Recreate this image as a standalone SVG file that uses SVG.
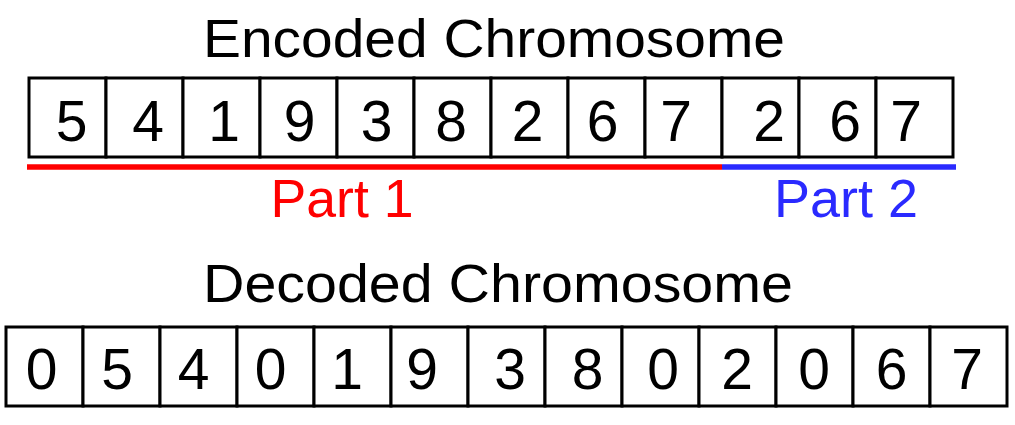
<svg xmlns="http://www.w3.org/2000/svg" width="1015" height="425" viewBox="0 0 1015 425">
<style>
.cell{fill:#fff;stroke:#000;stroke-width:3}
.d{font-family:"Liberation Sans",Arial,sans-serif;font-size:57px;fill:#000;text-anchor:middle}
.title{font-family:"Liberation Sans",Arial,sans-serif;font-size:54px;fill:#000;text-anchor:middle}
.part{font-family:"Liberation Sans",Arial,sans-serif;font-size:54px;text-anchor:middle}
</style>
<rect width="1015" height="425" fill="#fff"/>
<g id="title-encoded"><text class="title" x="494" y="57" textLength="582" lengthAdjust="spacingAndGlyphs">Encoded Chromosome</text></g>
<g id="encoded">
<rect class="cell" x="29" y="78" width="77" height="79"/>
<rect class="cell" x="106" y="78" width="77" height="79"/>
<rect class="cell" x="183" y="78" width="77" height="79"/>
<rect class="cell" x="260" y="78" width="77" height="79"/>
<rect class="cell" x="337" y="78" width="77" height="79"/>
<rect class="cell" x="414" y="78" width="77" height="79"/>
<rect class="cell" x="491" y="78" width="77" height="79"/>
<rect class="cell" x="568" y="78" width="77" height="79"/>
<rect class="cell" x="645" y="78" width="77" height="79"/>
<rect class="cell" x="722" y="78" width="77" height="79"/>
<rect class="cell" x="799" y="78" width="77" height="79"/>
<rect class="cell" x="876" y="78" width="77" height="79"/>
<text class="d" x="71.5" y="141">5</text>
<text class="d" x="148" y="141">4</text>
<text class="d" x="224" y="141">1</text>
<text class="d" x="299.5" y="141">9</text>
<text class="d" x="376.5" y="141">3</text>
<text class="d" x="451" y="141">8</text>
<text class="d" x="527.5" y="141">2</text>
<text class="d" x="602.5" y="141">6</text>
<text class="d" x="676" y="141">7</text>
<text class="d" x="769" y="141">2</text>
<text class="d" x="845" y="141">6</text>
<text class="d" x="906" y="141">7</text>
</g>
<g id="connectors">
<line x1="27" y1="167" x2="722" y2="167" stroke="#ff0000" stroke-width="5.5"/>
<line x1="722" y1="167" x2="956" y2="167" stroke="#2a2aff" stroke-width="5.5"/>
</g>
<g id="part1"><text class="part" x="342" y="217" fill="#ff0000" textLength="143" lengthAdjust="spacingAndGlyphs">Part 1</text></g>
<g id="part2"><text class="part" x="846" y="217" fill="#2a2aff" textLength="144" lengthAdjust="spacingAndGlyphs">Part 2</text></g>
<g id="title-decoded"><text class="title" x="498" y="302" textLength="590" lengthAdjust="spacingAndGlyphs">Decoded Chromosome</text></g>
<g id="decoded">
<rect class="cell" x="6" y="327" width="77" height="79"/>
<rect class="cell" x="83" y="327" width="77" height="79"/>
<rect class="cell" x="160" y="327" width="77" height="79"/>
<rect class="cell" x="237" y="327" width="77" height="79"/>
<rect class="cell" x="314" y="327" width="77" height="79"/>
<rect class="cell" x="391" y="327" width="77" height="79"/>
<rect class="cell" x="468" y="327" width="77" height="79"/>
<rect class="cell" x="545" y="327" width="77" height="79"/>
<rect class="cell" x="622" y="327" width="77" height="79"/>
<rect class="cell" x="699" y="327" width="77" height="79"/>
<rect class="cell" x="776" y="327" width="77" height="79"/>
<rect class="cell" x="853" y="327" width="77" height="79"/>
<rect class="cell" x="930" y="327" width="77" height="79"/>
<text class="d" x="41.5" y="389">0</text>
<text class="d" x="117" y="389">5</text>
<text class="d" x="193.5" y="389">4</text>
<text class="d" x="270.5" y="389">0</text>
<text class="d" x="347" y="389">1</text>
<text class="d" x="422" y="389">9</text>
<text class="d" x="510" y="389">3</text>
<text class="d" x="587.5" y="389">8</text>
<text class="d" x="663" y="389">0</text>
<text class="d" x="737" y="389">2</text>
<text class="d" x="814" y="389">0</text>
<text class="d" x="891.5" y="389">6</text>
<text class="d" x="967" y="389">7</text>
</g>
</svg>
